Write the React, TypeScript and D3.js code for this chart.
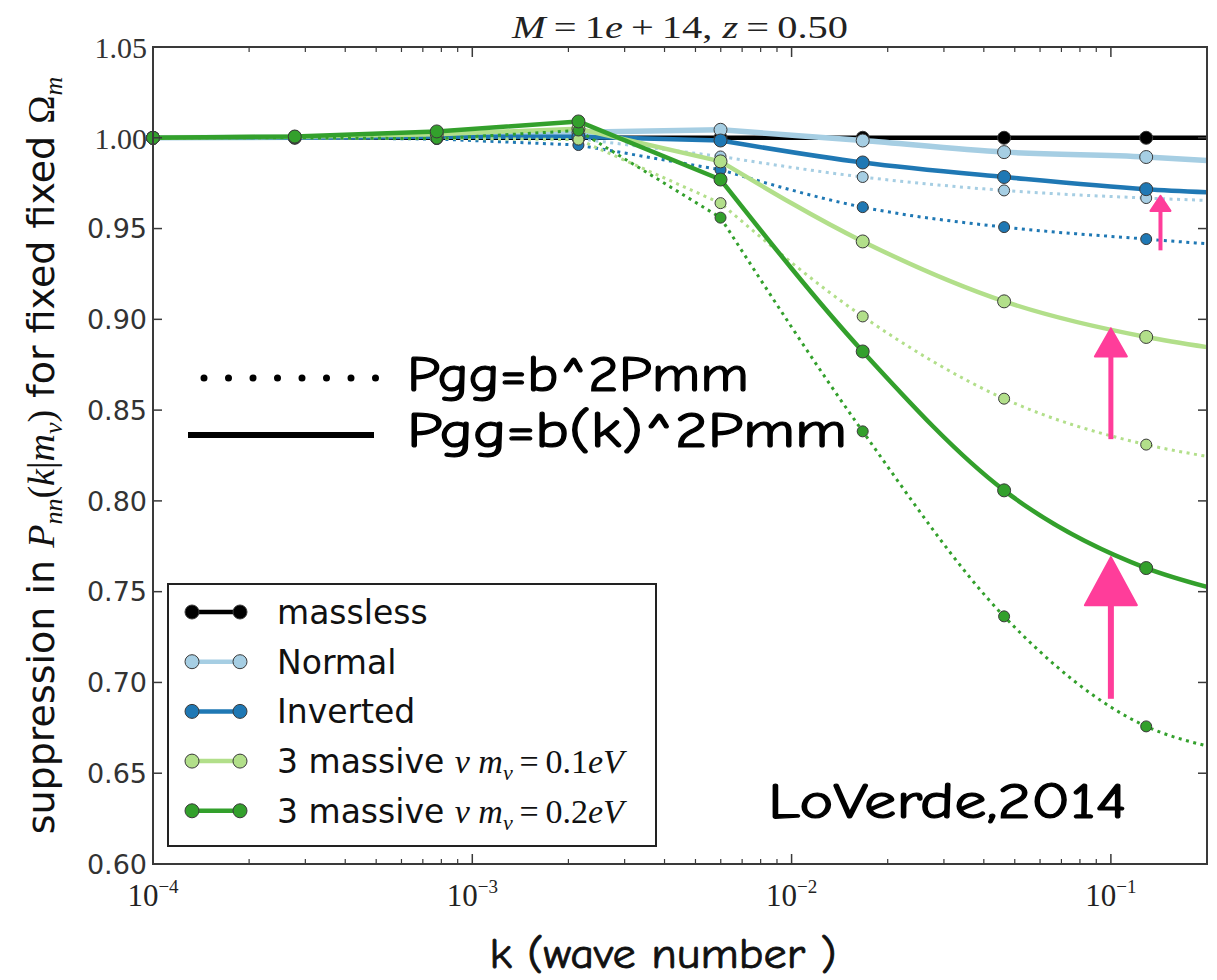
import React from 'react';
import * as d3 from 'd3';

// wave numbers where the model was sampled (markers), plus the right edge of the curves
const kPoints = [1.0e-4, 2.78e-4, 7.74e-4, 2.15e-3, 5.99e-3, 1.67e-2, 4.63e-2, 0.129];
const kEdge = 0.2;

// suppression values: 8 sampled points followed by the value at the right edge
const masslessSolid = [1.0, 1.0, 1.0, 1.0, 1.0, 1.0, 1.0, 1.0, 1.0];
const masslessDotted = [1.0, 1.0, 1.0, 1.0, 1.0, 1.0, 1.0, 1.0, 1.0];
const normalSolid = [1.0, 1.0003, 1.001, 1.003, 1.0044, 0.9985, 0.9921, 0.9894, 0.9875];
const normalDotted = [1.0, 1.0, 0.9998, 0.9995, 0.9897, 0.9784, 0.971, 0.9668, 0.9655];
const invertedSolid = [1.0, 1.0002, 1.0005, 1.0005, 0.9985, 0.9864, 0.9784, 0.9717, 0.970];
const invertedDotted = [1.0, 1.0, 0.9993, 0.996, 0.9824, 0.9618, 0.9508, 0.9442, 0.9416];
const m01Solid = [1.0, 1.0005, 1.002, 1.005, 0.987, 0.9429, 0.9099, 0.8903, 0.8847];
const m01Dotted = [1.0, 1.0, 0.9997, 0.999, 0.964, 0.9016, 0.8563, 0.831, 0.8245];
const m02Solid = [1.0, 1.0007, 1.0035, 1.009, 0.977, 0.8823, 0.8058, 0.763, 0.7526];
const m02Dotted = [1.0, 1.0, 0.9995, 1.004, 0.956, 0.8383, 0.7364, 0.6758, 0.665];

const yTicks = [0.6, 0.65, 0.7, 0.75, 0.8, 0.85, 0.9, 0.95, 1.0, 1.05];
const xDecades = [-4, -3, -2, -1];

// pink arrows (k position, tail value, tip value)
const arrowK = [0.143, 0.1, 0.1];
const arrowFrom = [0.938, 0.834, 0.691];
const arrowTo = [0.968, 0.895, 0.769];

const C_BLACK = '#000000';
const C_NORMAL = '#a6cee3';
const C_INVERTED = '#1f78b4';
const C_M01 = '#b2df8a';
const C_M02 = '#33a02c';
const PINK = '#ff3d9a';

const series = [
  { key: 'massless', color: C_BLACK, solid: masslessSolid, dotted: masslessDotted },
  { key: 'normal', color: C_NORMAL, solid: normalSolid, dotted: normalDotted },
  { key: 'inverted', color: C_INVERTED, solid: invertedSolid, dotted: invertedDotted },
  { key: 'm01', color: C_M01, solid: m01Solid, dotted: m01Dotted },
  { key: 'm02', color: C_M02, solid: m02Solid, dotted: m02Dotted },
];

const SANS = "'DejaVu Sans', sans-serif";
const SERIF = "'Liberation Serif', 'DejaVu Serif', serif";
const HAND = "'Comic Sans MS', 'Comic Neue', 'DejaVu Sans', sans-serif";

export default function App() {
  const W = 1217;
  const H = 980;
  const left = 153, right = 1207, top = 47, bottom = 864;

  const x = d3.scaleLog().domain([1e-4, kEdge]).range([left, right]);
  const y = d3.scaleLinear().domain([0.6, 1.05]).range([bottom, top]);
  const kLine = [...kPoints, kEdge];
  const pts = (vals: number[]) => vals.map((v, i) => [x(kLine[i]), y(v)] as [number, number]);

  // straight segments over the coarse low-k samples, smooth bend at high k
  const straight = d3.line().curve(d3.curveLinear);
  const smooth = d3.line().curve(d3.curveMonotoneX);
  const pathFor = (vals: number[]) => {
    const p = pts(vals);
    const a = straight(p.slice(0, 5)) || '';
    const b = (smooth(p.slice(4)) || '').replace(/^M/, 'L');
    return a + b;
  };

  // minor ticks on the log axis
  const minor: number[] = [];
  xDecades.forEach((d) => {
    for (let m = 2; m <= 9; m++) {
      const v = m * Math.pow(10, d);
      if (v < kEdge) minor.push(v);
    }
  });

  const frame = '#3a3a3a';

  const legendRows = [
    { color: C_BLACK, label: 'massless', mass: null as string | null },
    { color: C_NORMAL, label: 'Normal', mass: null },
    { color: C_INVERTED, label: 'Inverted', mass: null },
    { color: C_M01, label: '3 massive ', mass: '0.1' },
    { color: C_M02, label: '3 massive ', mass: '0.2' },
  ];

  const arrowHead = [
    [20, 15, 4],
    [32, 28, 5],
    [52, 48, 6],
  ];

  return (
    <svg
      width={W}
      height={H}
      viewBox={`0 0 ${W} ${H}`}
      style={{ position: 'absolute', left: 0, top: 0, background: '#fff' }}
    >
      <rect x={0} y={0} width={W} height={H} fill="#fff" />

      {/* title */}
      <text x={(left + right) / 2} y={38} textAnchor="middle" fontFamily={SERIF} fontSize={31} fill="#222"
        textLength={336} lengthAdjust="spacingAndGlyphs">
        <tspan fontStyle="italic">M</tspan>
        <tspan>{'\u2009=\u20091'}</tspan>
        <tspan fontStyle="italic">e</tspan>
        <tspan>{'\u2009+\u200914,  '}</tspan>
        <tspan fontStyle="italic">z</tspan>
        <tspan>{'\u2009=\u20090.50'}</tspan>
      </text>

      {/* data curves */}
      <g>
        {series.map((s) => (
          <g key={s.key}>
            <path d={pathFor(s.dotted)} fill="none" stroke={s.color} strokeWidth={3}
              strokeDasharray="3 4.5" />
            <path d={pathFor(s.solid)} fill="none" stroke={s.color}
              strokeWidth={s.key === 'normal' ? 5.5 : 4.5} strokeLinejoin="round" />
            {kPoints.map((k, i) => (
              <circle key={'d' + i} cx={x(k)} cy={y(s.dotted[i])} r={5.5} fill={s.color}
                stroke="#3a3a3a" strokeWidth={1} />
            ))}
            {kPoints.map((k, i) => (
              <circle key={'s' + i} cx={x(k)} cy={y(s.solid[i])} r={6.5} fill={s.color}
                stroke="#3a3a3a" strokeWidth={1} />
            ))}
          </g>
        ))}
      </g>

      {/* axes frame */}
      <rect x={left} y={top} width={right - left} height={bottom - top} fill="none"
        stroke={frame} strokeWidth={2} />

      {/* y ticks */}
      {yTicks.map((t) => (
        <g key={t}>
          <line x1={left} x2={left + 9} y1={y(t)} y2={y(t)} stroke={frame} strokeWidth={1.5} />
          <line x1={right} x2={right - 9} y1={y(t)} y2={y(t)} stroke={frame} strokeWidth={1.5} />
          <text x={left - 6} y={y(t)} dy="0.36em" textAnchor="end"
            fontFamily={t >= 1.0 ? SERIF : SANS} fontSize={t >= 1.0 ? 30 : 27} fill="#333">
            {t.toFixed(2)}
          </text>
        </g>
      ))}

      {/* x ticks */}
      {xDecades.map((d) => {
        const v = Math.pow(10, d);
        return (
          <g key={d}>
            <line x1={x(v)} x2={x(v)} y1={bottom} y2={bottom - 10} stroke={frame} strokeWidth={1.5} />
            <line x1={x(v)} x2={x(v)} y1={top} y2={top + 10} stroke={frame} strokeWidth={1.5} />
            <text x={x(v)} y={906} textAnchor="middle" fontFamily={SERIF} fontSize={31} fill="#222">
              10<tspan fontSize={19} dy={-13}>{'\u2212' + Math.abs(d)}</tspan>
            </text>
          </g>
        );
      })}
      {minor.map((v, i) => (
        <g key={'m' + i}>
          <line x1={x(v)} x2={x(v)} y1={bottom} y2={bottom - 5} stroke={frame} strokeWidth={1.2} />
          <line x1={x(v)} x2={x(v)} y1={top} y2={top + 5} stroke={frame} strokeWidth={1.2} />
        </g>
      ))}

      {/* y label */}
      <text transform={`translate(54, ${(top + bottom) / 2}) rotate(-90)`} textAnchor="middle"
        fontFamily={SANS} fontSize={38} fill="#111">
        <tspan>suppression in </tspan>
        <tspan fontFamily={SERIF} fontStyle="italic">P</tspan>
        <tspan fontFamily={SERIF} fontStyle="italic" fontSize={26} dy={8}>nn</tspan>
        <tspan fontFamily={SERIF} dy={-8}>(</tspan>
        <tspan fontFamily={SERIF} fontStyle="italic">k</tspan>
        <tspan fontFamily={SERIF}>|</tspan>
        <tspan fontFamily={SERIF} fontStyle="italic">m</tspan>
        <tspan fontFamily={SERIF} fontStyle="italic" fontSize={26} dy={8}>ν</tspan>
        <tspan fontFamily={SERIF} dy={-8}>)</tspan>
        <tspan> for fixed fixed </tspan>
        <tspan fontFamily={SERIF}>Ω</tspan>
        <tspan fontFamily={SERIF} fontStyle="italic" fontSize={26} dy={8}>m</tspan>
      </text>

      {/* x label */}
      <text x={663} y={968} textAnchor="middle" fontFamily={HAND} fontSize={42} fill="#111"
        stroke="#111" strokeWidth={0.8} textLength={347} lengthAdjust="spacingAndGlyphs">
        k (wave number )
      </text>

      {/* legend */}
      <g>
        <rect x={168} y={584} width={488} height={262} fill="#fff" stroke="#222" strokeWidth={2} />
        {legendRows.map((r, i) => {
          const ry = 612 + i * 49.7;
          return (
            <g key={r.label + i}>
              <line x1={192} x2={240} y1={ry} y2={ry} stroke={r.color} strokeWidth={4.5} />
              <circle cx={192} cy={ry} r={7} fill={r.color} stroke="#3a3a3a" strokeWidth={1} />
              <circle cx={240} cy={ry} r={7} fill={r.color} stroke="#3a3a3a" strokeWidth={1} />
              <text x={277} y={ry} dy="0.36em" fontFamily={SANS} fontSize={33} fill="#111">
                {r.label}
                {r.mass && (
                  <>
                    <tspan fontFamily={SERIF} fontStyle="italic" fontSize={34}>ν </tspan>
                    <tspan fontFamily={SERIF} fontStyle="italic" fontSize={34}>m</tspan>
                    <tspan fontFamily={SERIF} fontStyle="italic" fontSize={22} dy={7}>ν</tspan>
                    <tspan fontFamily={SERIF} fontSize={34} dy={-7}>{'\u2009=\u2009' + r.mass}</tspan>
                    <tspan fontFamily={SERIF} fontStyle="italic" fontSize={34}>eV</tspan>
                  </>
                )}
              </text>
            </g>
          );
        })}
      </g>

      {/* line-style key */}
      <line x1={204} x2={376} y1={378} y2={378} stroke="#000" strokeWidth={7}
        strokeLinecap="round" strokeDasharray="0 24.5" />
      <line x1={188} x2={374} y1={435} y2={435} stroke="#000" strokeWidth={6} />
      <text x={407} y={391} fontFamily={HAND} fontSize={50} fill="#000" stroke="#000" strokeWidth={1.2}
        textLength={342} lengthAdjust="spacingAndGlyphs">Pgg=b^2Pmm</text>
      <text x={407} y={447} fontFamily={HAND} fontSize={50} fill="#000" stroke="#000" strokeWidth={1.2}
        textLength={440} lengthAdjust="spacingAndGlyphs">Pgg=b(k)^2Pmm</text>

      {/* citation */}
      <text x={768} y={818} fontFamily={HAND} fontSize={50} fill="#000" stroke="#000" strokeWidth={1.2}
        textLength={359} lengthAdjust="spacingAndGlyphs">LoVerde,2014</text>

      {/* arrows */}
      {arrowK.map((k, i) => {
        const ax = x(k);
        const y0 = y(arrowFrom[i]);
        const y1 = y(arrowTo[i]);
        const [hw, hh, sw] = arrowHead[i];
        return (
          <g key={'a' + i}>
            <line x1={ax} x2={ax} y1={y0} y2={y1 + hh - 2} stroke={PINK} strokeWidth={sw} />
            <path d={`M${ax},${y1} L${ax + hw / 2},${y1 + hh} L${ax - hw / 2},${y1 + hh} Z`}
              fill={PINK} stroke={PINK} strokeWidth={2} strokeLinejoin="round" />
          </g>
        );
      })}
    </svg>
  );
}
